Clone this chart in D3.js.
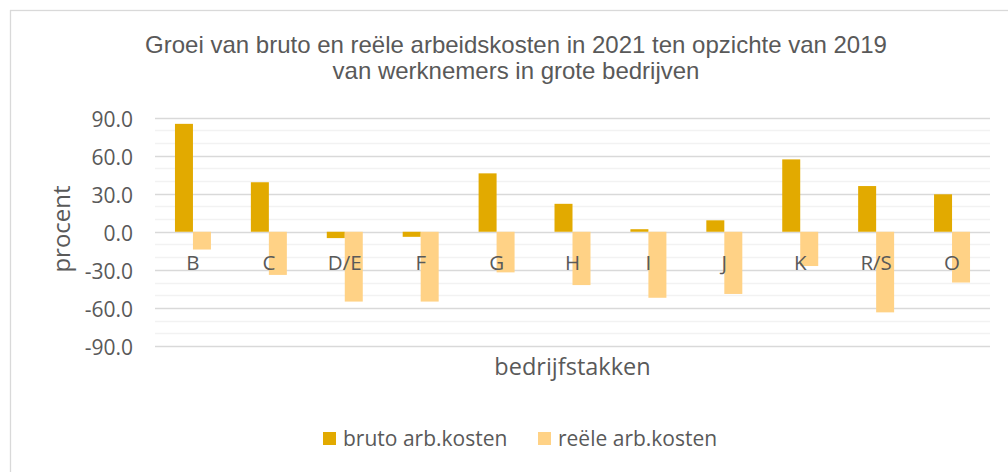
<!DOCTYPE html>
<html>
<head>
<meta charset="utf-8">
<script src="https://cdn.jsdelivr.net/npm/d3@7"></script>
<style>
  body { margin: 0; background: #fff; }
  svg { display: block; }
</style>
</head>
<body>
<svg id="chart" width="1008" height="472"></svg>
<script>
// data
var categories = ["B", "C", "D/E", "F", "G", "H", "I", "J", "K", "R/S", "O"];
var bruto = [85, 39, -5, -4, 46, 22, 2, 9, 57, 36, 29.5];
var reele = [-14, -34, -55, -55, -32, -42, -52, -49, -27, -63.5, -40];
var seriesNames = ["bruto arb.kosten", "reële arb.kosten"];
var majorTicks = [90, 60, 30, 0, -30, -60, -90];
var titleLines = ["Groei van bruto en reële arbeidskosten in 2021 ten opzichte van 2019",
                  "van werknemers in grote bedrijven"];

var colors = ["#E2AA00", "#FFD286"];
var textColor = "#595959";
var font = "'Open Sans', 'Noto Sans', sans-serif";

var svg = d3.select("#chart");

// chart frame
svg.append("rect")
    .attr("x", 10.5)
    .attr("y", 10.5)
    .attr("width", 1010)
    .attr("height", 480)
    .attr("fill", "#fff")
    .attr("stroke", "#D9D9D9")
    .attr("stroke-width", 1.3);

var plotLeft = 155, plotRight = 990, plotTop = 117.5, plotBottom = 346;

var x = d3.scaleBand()
    .domain(categories)
    .range([plotLeft, plotRight])
    .padding(0);

var y = d3.scaleLinear()
    .domain([-90, 90])
    .range([plotBottom, plotTop]);

var barW = x.bandwidth() * 0.237;

// minor gridlines (every 10)
svg.append("g")
    .selectAll("line")
    .data(d3.range(-90, 91, 10).filter(v => v % 30 !== 0))
    .enter().append("line")
    .attr("x1", plotLeft)
    .attr("x2", plotRight)
    .attr("y1", d => Math.round(y(d)) + 0.5)
    .attr("y2", d => Math.round(y(d)) + 0.5)
    .attr("stroke", "#F2F2F2")
    .attr("stroke-width", 1.3);

// major gridlines
svg.append("g")
    .selectAll("line")
    .data(majorTicks)
    .enter().append("line")
    .attr("x1", plotLeft)
    .attr("x2", plotRight)
    .attr("y1", d => Math.round(y(d)) + 0.5)
    .attr("y2", d => Math.round(y(d)) + 0.5)
    .attr("stroke", "#D9D9D9")
    .attr("stroke-width", 1.3);

// y axis tick labels
svg.append("g")
    .selectAll("text")
    .data(majorTicks)
    .enter().append("text")
    .attr("x", 133)
    .attr("y", d => y(d) + 1)
    .attr("text-anchor", "end")
    .attr("dominant-baseline", "central")
    .attr("fill", textColor)
    .style("font-family", font)
    .style("font-size", "21px")
    .text(d => d.toFixed(1));

// bars
var seriesData = [bruto, reele];
seriesData.forEach(function(vals, s) {
  svg.append("g")
      .selectAll("rect")
      .data(vals)
      .enter().append("rect")
      .attr("x", (d, i) => x(categories[i]) + x.bandwidth() / 2 - barW + s * barW)
      .attr("y", d => y(Math.max(0, d)))
      .attr("width", barW)
      .attr("height", d => Math.abs(y(d) - y(0)))
      .attr("fill", colors[s]);
});

// category labels next to the zero axis
svg.append("g")
    .selectAll("text")
    .data(categories)
    .enter().append("text")
    .attr("x", d => x(d) + x.bandwidth() / 2)
    .attr("y", 270)
    .attr("text-anchor", "middle")
    .attr("fill", textColor)
    .style("font-family", font)
    .style("font-size", "20.5px")
    .text(d => d);

// title
svg.append("g")
    .selectAll("text")
    .data(titleLines)
    .enter().append("text")
    .attr("x", 516)
    .attr("y", (d, i) => 53 + i * 26)
    .attr("text-anchor", "middle")
    .attr("fill", textColor)
    .style("font-family", "'Liberation Sans', Arial, sans-serif")
    .style("font-size", "24px")
    .text(d => d);

// axis titles
svg.append("text")
    .attr("transform", "translate(70,229) rotate(-90)")
    .attr("text-anchor", "middle")
    .attr("fill", textColor)
    .style("font-family", font)
    .style("font-size", "24px")
    .text("procent");

svg.append("text")
    .attr("x", (plotLeft + plotRight) / 2)
    .attr("y", 375)
    .attr("text-anchor", "middle")
    .attr("fill", textColor)
    .style("font-family", font)
    .style("font-size", "23.5px")
    .text("bedrijfstakken");

// legend
var legendX = [323, 538];
var legend = svg.append("g")
    .selectAll("g")
    .data(seriesNames)
    .enter().append("g")
    .attr("transform", (d, i) => "translate(" + legendX[i] + ",432)");
legend.append("rect")
    .attr("width", 13)
    .attr("height", 13)
    .attr("fill", (d, i) => colors[i]);
legend.append("text")
    .attr("x", 20)
    .attr("y", 14)
    .attr("fill", textColor)
    .style("font-family", font)
    .style("font-size", "21px")
    .text(d => d);
</script>
</body>
</html>
